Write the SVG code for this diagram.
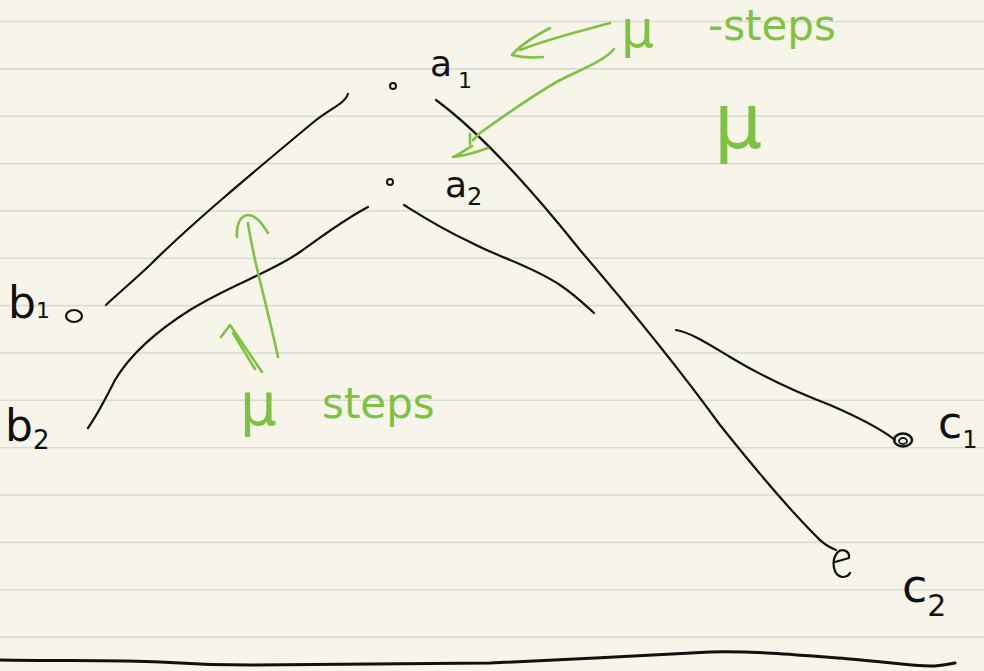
<svg xmlns="http://www.w3.org/2000/svg" width="984" height="671" viewBox="0 0 984 671">
<style>
.rule{stroke:#d9d9d6;stroke-width:1.6}
.ink{fill:none;stroke:#111;stroke-width:2.2;stroke-linecap:round;stroke-linejoin:round}
.g{fill:none;stroke:#7ec242;stroke-width:2.6;stroke-linecap:round;stroke-linejoin:round}
.t{font-family:"DejaVu Sans","Liberation Sans",sans-serif;fill:#111}
.gt{font-family:"DejaVu Sans","Liberation Sans",sans-serif;fill:#7ec242}
</style>
<rect width="984" height="671" fill="#f7f5ea"/>
<g id="paper">
<line class="rule" x1="0" x2="984" y1="21.5" y2="21.5"/>
<line class="rule" x1="0" x2="984" y1="68.9" y2="68.9"/>
<line class="rule" x1="0" x2="984" y1="116.2" y2="116.2"/>
<line class="rule" x1="0" x2="984" y1="163.6" y2="163.6"/>
<line class="rule" x1="0" x2="984" y1="211" y2="211"/>
<line class="rule" x1="0" x2="984" y1="258.3" y2="258.3"/>
<line class="rule" x1="0" x2="984" y1="305.6" y2="305.6"/>
<line class="rule" x1="0" x2="984" y1="353" y2="353"/>
<line class="rule" x1="0" x2="984" y1="400.3" y2="400.3"/>
<line class="rule" x1="0" x2="984" y1="447.7" y2="447.7"/>
<line class="rule" x1="0" x2="984" y1="495" y2="495"/>
<line class="rule" x1="0" x2="984" y1="542.4" y2="542.4"/>
<line class="rule" x1="0" x2="984" y1="589.8" y2="589.8"/>
<line class="rule" x1="0" x2="984" y1="637" y2="637"/>
<path d="M0,660 C60,661 120,660 160,662 C190,664 207,665 250,665 C350,664 430,664 490,663 C560,660 640,656 710,652 C760,651 800,655 850,659 C890,662 915,667 935,666 C945,665 950,664 955,663" fill="none" stroke="#111" stroke-width="3" stroke-linecap="round"/>
</g>
<g id="connectors">
<path class="ink" d="M348,94 C345,104 330,108 310,125 C250,175 190,225 150,265 C130,284 115,296 106,305"/>
<path class="ink" d="M436,100 C470,125 520,175 580,250 C640,320 680,370 720,425 C760,475 790,510 815,535 C822,543 828,547 836,550"/>
<path class="ink" d="M368,207 C340,222 320,238 300,252 C270,273 230,285 190,310 C155,332 130,355 115,380 C105,400 97,415 88,428"/>
<path class="ink" d="M404,205 C420,215 440,228 470,242 C500,258 530,265 560,285 C575,295 585,305 594,313"/>
<path class="ink" d="M676,330 C690,332 710,345 730,357 C760,375 790,390 830,405 C860,418 880,428 895,440"/>
</g>
<g id="a1">
<circle cx="393" cy="86" r="3" fill="none" stroke="#111" stroke-width="2"/>
<text class="t" x="430" y="76" font-size="36">a<tspan dx="6" dy="12" font-size="22">1</tspan></text>
</g>
<g id="a2">
<circle cx="390" cy="182" r="3" fill="none" stroke="#111" stroke-width="2"/>
<text class="t" x="445" y="197" font-size="36">a<tspan dy="8" font-size="24">2</tspan></text>
</g>
<g id="b1">
<ellipse cx="74" cy="316" rx="8" ry="6" fill="none" stroke="#111" stroke-width="2.2"/>
<text class="t" x="8" y="318" font-size="44">b<tspan font-size="22">1</tspan></text>
</g>
<g id="b2">
<text class="t" x="5" y="441" font-size="44">b<tspan dy="8" font-size="26">2</tspan></text>
</g>
<g id="c1">
<ellipse cx="903" cy="440" rx="9" ry="6.5" fill="none" stroke="#111" stroke-width="2.4"/>
<ellipse cx="903" cy="441" rx="4" ry="3" fill="none" stroke="#111" stroke-width="1.8"/>
<text class="t" x="938" y="438" font-size="44">c<tspan dy="10" font-size="24">1</tspan></text>
</g>
<g id="c2">
<path class="ink" d="M835,562 L849,558 C850,550 841,548 837,553 C831,561 833,575 842,577 C846,577 849,575 850,573"/>
<text class="t" x="902" y="602" font-size="46">c<tspan dy="14" font-size="30">2</tspan></text>
</g>
<g id="annotations">
<path class="g" d="M610,23 C585,30 550,38 520,50"/>
<path class="g" d="M550,28 C535,36 520,45 512,55 C520,57 532,58 543,57"/>
<path class="g" d="M614,49 C605,60 585,68 560,80 C530,97 505,115 480,133 L473,140"/>
<path class="g" d="M470,134 L470,144 M472,146 C465,150 458,155 453,157 C465,156 477,152 488,148"/>
<text class="gt" x="621" y="47" font-size="52">μ</text>
<text class="gt" x="708" y="40" font-size="42">-steps</text>
<text class="gt" x="714" y="148" font-size="76">μ</text>
<path class="g" d="M278,357 C270,320 262,290 255,260 C252,245 249,232 248,223"/>
<path class="g" d="M237,237 C236,225 240,215 249,215 C257,216 263,225 268,233"/>
<path class="g" d="M221,337 L230,325 L262,372 M233,333 L255,369"/>
<text class="gt" x="240" y="425" font-size="58">μ</text>
<text class="gt" x="322" y="418" font-size="42">steps</text>
</g>
</svg>
